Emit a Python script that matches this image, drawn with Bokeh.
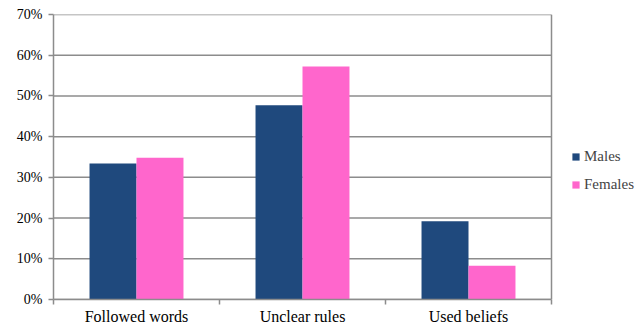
from bokeh.plotting import figure
from bokeh.models import FixedTicker, NumeralTickFormatter, Legend, LegendItem, Range1d, ColumnDataSource
from bokeh.embed import file_html
from bokeh.resources import INLINE

categories = ["Followed words", "Unclear rules", "Used beliefs"]
males = [0.334, 0.477, 0.192]
females = [0.348, 0.572, 0.083]
y_ticks = [0, 0.1, 0.2, 0.3, 0.4, 0.5, 0.6, 0.7]

FONT = "Liberation Serif"
GRID = "#8c8c8c"

n = len(categories)
centers = [i + 0.5 for i in range(n)]
bw = 0.283
src_m = ColumnDataSource(dict(x=[c - bw / 2 for c in centers], top=males))
src_f = ColumnDataSource(dict(x=[c + bw / 2 for c in centers], top=females))

LEFT, TOP, BOTTOM = 53, 14, 28
W, H = 637, 327
plot_w = 498  # pixel width of the bar area
x_end = n * (W - LEFT) / plot_w

p = figure(width=W, height=H, output_backend="svg", toolbar_location=None,
           x_range=Range1d(0, x_end), y_range=Range1d(0, y_ticks[-1]),
           min_border_left=LEFT, min_border_top=TOP, min_border_bottom=BOTTOM, min_border_right=0)
p.background_fill_color = "white"
p.border_fill_color = "white"
p.outline_line_color = None

# gridlines limited to the bar area, plus right border
p.segment(x0=[0] * len(y_ticks), x1=[n] * len(y_ticks), y0=y_ticks, y1=y_ticks,
          line_color=GRID, line_width=1.5)
p.segment(x0=[n], x1=[n], y0=[0], y1=[y_ticks[-1]], line_color=GRID, line_width=1.5)

rm = p.vbar(x="x", top="top", width=bw, bottom=0, source=src_m, fill_color="#1F497D", line_color=None)
rf = p.vbar(x="x", top="top", width=bw, bottom=0, source=src_f, fill_color="#FF66CC", line_color=None)

# x axis
p.xaxis.bounds = (0, n)
p.xaxis.ticker = FixedTicker(ticks=centers, minor_ticks=list(range(n + 1)))
p.xaxis.major_label_overrides = {c: cat for c, cat in zip(centers, categories)}
p.xaxis.major_tick_out = 0
p.xaxis.major_tick_in = 0
p.xaxis.minor_tick_out = 5
p.xaxis.minor_tick_in = 0
p.xaxis.minor_tick_line_color = GRID
p.xaxis.minor_tick_line_width = 1.5
p.xaxis.axis_line_color = GRID
p.xaxis.axis_line_width = 1.5
p.xaxis.major_label_text_font = FONT
p.xaxis.major_label_text_font_size = "16px"
p.xaxis.major_label_text_color = "black"
p.xaxis.major_label_standoff = 3
p.xgrid.visible = False
p.ygrid.visible = False

# y axis
p.yaxis.ticker = FixedTicker(ticks=y_ticks)
p.yaxis.formatter = NumeralTickFormatter(format="0%")
p.yaxis.major_tick_out = 5
p.yaxis.major_tick_in = 0
p.yaxis.minor_tick_line_color = None
p.yaxis.major_tick_line_color = GRID
p.yaxis.major_tick_line_width = 1.5
p.yaxis.axis_line_color = GRID
p.yaxis.axis_line_width = 1.5
p.yaxis.major_label_text_font = FONT
p.yaxis.major_label_text_font_size = "14px"
p.yaxis.major_label_text_color = "black"
p.yaxis.major_label_standoff = 6

legend = Legend(items=[LegendItem(label="Males", renderers=[rm]),
                       LegendItem(label="Females", renderers=[rf])],
                location=(plot_w + 20, 106), border_line_color=None, background_fill_alpha=0,
                glyph_width=9, glyph_height=9, label_standoff=4, spacing=11,
                label_text_font=FONT, label_text_font_size="15px",
                padding=0, margin=0)
p.add_layout(legend, "center")

open("out.html", "w").write(file_html(p, INLINE))
